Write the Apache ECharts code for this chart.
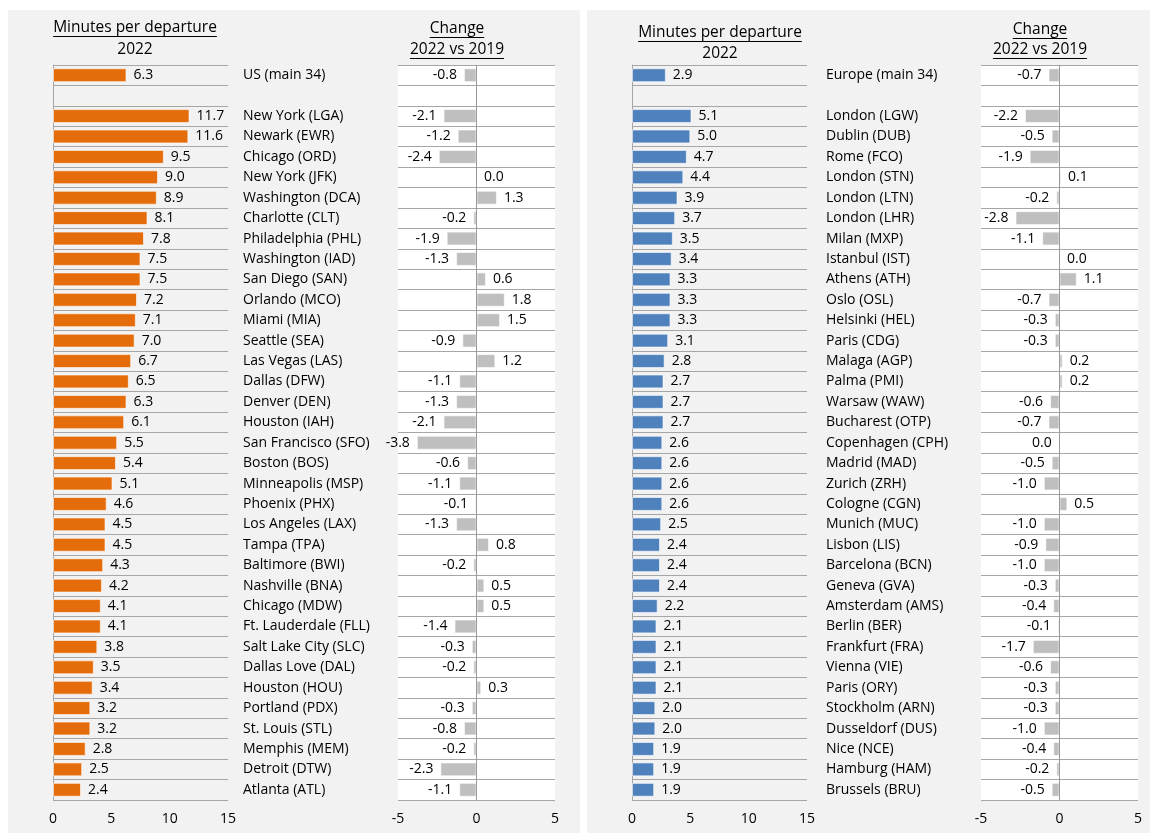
<!DOCTYPE html>
<html>
<head>
<meta charset="utf-8">
<script src="https://cdn.jsdelivr.net/npm/echarts@6/dist/echarts.min.js"></script>
<style>
  html, body { margin: 0; padding: 0; background: #fff; }
  #main { width: 1150px; height: 833px; }
</style>
</head>
<body>
<div id="main"></div>
<script>
  // US airports (first row = US average, second row blank spacer)
  var usNames = ['US (main 34)', '', 'New York (LGA)', 'Newark (EWR)', 'Chicago (ORD)', 'New York (JFK)',
    'Washington (DCA)', 'Charlotte (CLT)', 'Philadelphia (PHL)', 'Washington (IAD)', 'San Diego (SAN)',
    'Orlando (MCO)', 'Miami (MIA)', 'Seattle (SEA)', 'Las Vegas (LAS)', 'Dallas (DFW)', 'Denver (DEN)',
    'Houston (IAH)', 'San Francisco (SFO)', 'Boston (BOS)', 'Minneapolis (MSP)', 'Phoenix (PHX)',
    'Los Angeles (LAX)', 'Tampa (TPA)', 'Baltimore (BWI)', 'Nashville (BNA)', 'Chicago (MDW)',
    'Ft. Lauderdale (FLL)', 'Salt Lake City (SLC)', 'Dallas Love (DAL)', 'Houston (HOU)',
    'Portland (PDX)', 'St. Louis (STL)', 'Memphis (MEM)', 'Detroit (DTW)', 'Atlanta (ATL)'];
  var usMinutes = [6.3, null, 11.7, 11.6, 9.5, 9.0, 8.9, 8.1, 7.8, 7.5, 7.5, 7.2, 7.1, 7.0, 6.7, 6.5, 6.3,
    6.1, 5.5, 5.4, 5.1, 4.6, 4.5, 4.5, 4.3, 4.2, 4.1, 4.1, 3.8, 3.5, 3.4, 3.2, 3.2, 2.8, 2.5, 2.4];
  var usChange = [-0.8, null, -2.1, -1.2, -2.4, 0.0, 1.3, -0.2, -1.9, -1.3, 0.6, 1.8, 1.5, -0.9, 1.2, -1.1,
    -1.3, -2.1, -3.8, -0.6, -1.1, -0.1, -1.3, 0.8, -0.2, 0.5, 0.5, -1.4, -0.3, -0.2, 0.3, -0.3, -0.8,
    -0.2, -2.3, -1.1];

  // European airports
  var euNames = ['Europe (main 34)', '', 'London (LGW)', 'Dublin (DUB)', 'Rome (FCO)', 'London (STN)',
    'London (LTN)', 'London (LHR)', 'Milan (MXP)', 'Istanbul (IST)', 'Athens (ATH)', 'Oslo (OSL)',
    'Helsinki (HEL)', 'Paris (CDG)', 'Malaga (AGP)', 'Palma (PMI)', 'Warsaw (WAW)', 'Bucharest (OTP)',
    'Copenhagen (CPH)', 'Madrid (MAD)', 'Zurich (ZRH)', 'Cologne (CGN)', 'Munich (MUC)', 'Lisbon (LIS)',
    'Barcelona (BCN)', 'Geneva (GVA)', 'Amsterdam (AMS)', 'Berlin (BER)', 'Frankfurt (FRA)',
    'Vienna (VIE)', 'Paris (ORY)', 'Stockholm (ARN)', 'Dusseldorf (DUS)', 'Nice (NCE)',
    'Hamburg (HAM)', 'Brussels (BRU)'];
  var euMinutes = [2.9, null, 5.1, 5.0, 4.7, 4.4, 3.9, 3.7, 3.5, 3.4, 3.3, 3.3, 3.3, 3.1, 2.8, 2.7, 2.7,
    2.7, 2.6, 2.6, 2.6, 2.6, 2.5, 2.4, 2.4, 2.4, 2.2, 2.1, 2.1, 2.1, 2.1, 2.0, 2.0, 1.9, 1.9, 1.9];
  var euChange = [-0.7, null, -2.2, -0.5, -1.9, 0.1, -0.2, -2.8, -1.1, 0.0, 1.1, -0.7, -0.3, -0.3, 0.2,
    0.2, -0.6, -0.7, -0.04, -0.5, -1.0, 0.5, -1.0, -0.9, -1.0, -0.3, -0.4, -0.1, -1.7, -0.6, -0.3,
    -0.3, -1.0, -0.4, -0.2, -0.5];

  var minTicks = [0, 15, 5];     // min, max, interval
  var chgTicks = [-5, 5, 5];

  var FONT = 'Open Sans';
  var txt = '#000';
  var gridLine = '#a6a6a6';
  var plotTop = 65, plotH = 735;
  var fs = 14, titleFs = 15.5;

  function fmt(v) { return (Math.round(v * 10) / 10).toFixed(1); }

  function measure(s, size) {
    var c = document.createElement('canvas').getContext('2d');
    c.font = size + 'px "' + FONT + '"';
    return c.measureText(s).width;
  }

  // centred heading text, optionally underlined (excel style)
  function heading(s, cx, cy, underline) {
    var out = [{
      type: 'text', x: cx, y: cy,
      style: { text: s, fill: txt, fontSize: titleFs, fontFamily: FONT, align: 'center', verticalAlign: 'middle' }
    }];
    if (underline) {
      var w = measure(s, titleFs);
      out.push({
        type: 'line', shape: { x1: cx - w / 2, y1: cy + 8.5, x2: cx + w / 2, y2: cy + 8.5 },
        style: { stroke: txt, lineWidth: 1 }
      });
    }
    return out;
  }

  function chgData(arr) {
    return arr.map(function (v) {
      if (v === null) return '-';
      return { value: v, label: { position: v < 0 ? 'left' : 'right' } };
    });
  }

  var grids = [
    { left: 53, top: plotTop, width: 175, height: plotH },
    { left: 398, top: plotTop, width: 157, height: plotH, show: true, backgroundColor: '#fff', borderWidth: 0 },
    { left: 632, top: plotTop, width: 175, height: plotH },
    { left: 981, top: plotTop, width: 157, height: plotH, show: true, backgroundColor: '#fff', borderWidth: 0 }
  ];

  function valAxis(i, t) {
    return {
      type: 'value', gridIndex: i, min: t[0], max: t[1], interval: t[2],
      axisLine: { show: false }, axisTick: { show: false }, splitLine: { show: false },
      axisLabel: { color: txt, fontFamily: FONT, fontSize: fs, margin: 12 }
    };
  }

  function catAxis(i, names, withLabels, withLine) {
    return {
      type: 'category', gridIndex: i, data: names, inverse: true,
      axisLine: { show: withLine, onZero: false, lineStyle: { color: gridLine } },
      axisTick: { show: false },
      splitLine: { show: true, lineStyle: { color: gridLine, width: 1 } },
      axisLabel: withLabels ? {
        show: true, interval: 0, align: 'left', margin: 155,
        color: txt, fontFamily: FONT, fontSize: fs
      } : { show: false }
    };
  }

  function barSeries(i, data, color) {
    return {
      type: 'bar', xAxisIndex: i, yAxisIndex: i, barWidth: '68%',
      data: data.map(function (v) { return v === null ? '-' : v; }),
      itemStyle: { color: color, borderColor: 'rgba(255,255,255,0.6)', borderWidth: 1 },
      label: {
        show: true, position: 'right', distance: 7, color: txt, fontFamily: FONT, fontSize: fs,
        formatter: function (p) { return fmt(p.value); }
      }
    };
  }

  function chgSeries(i, data) {
    return {
      type: 'bar', xAxisIndex: i, yAxisIndex: i, barWidth: '68%',
      data: chgData(data),
      itemStyle: { color: '#bfbfbf', borderColor: 'rgba(255,255,255,0.6)', borderWidth: 1 },
      label: {
        show: true, distance: 7, color: txt, fontFamily: FONT, fontSize: fs,
        formatter: function (p) { return fmt(p.value); }
      },
      markLine: {
        silent: true, symbol: 'none', label: { show: false },
        lineStyle: { color: '#999', type: 'solid', width: 1 },
        data: [{ xAxis: 0 }]
      }
    };
  }

  var graphics = [
    { type: 'rect', z: -10, shape: { x: 8, y: 10, width: 572, height: 840 }, style: { fill: '#f2f2f2' } },
    { type: 'rect', z: -10, shape: { x: 587, y: 10, width: 570, height: 840 }, style: { fill: '#f2f2f2' } }
  ]
    .concat(heading('Minutes per departure', 135, 28, true))
    .concat(heading('2022', 135, 50, false))
    .concat(heading('Change', 457, 29, true))
    .concat(heading('2022 vs 2019', 457, 50, true))
    .concat(heading('Minutes per departure', 720, 33, true))
    .concat(heading('2022', 720, 54, false))
    .concat(heading('Change', 1040, 30, true))
    .concat(heading('2022 vs 2019', 1040, 50, true));

  var chart = echarts.init(document.getElementById('main'));
  chart.setOption({
    animation: false,
    textStyle: { fontFamily: FONT },
    graphic: graphics,
    grid: grids,
    xAxis: [valAxis(0, minTicks), valAxis(1, chgTicks), valAxis(2, minTicks), valAxis(3, chgTicks)],
    yAxis: [
      catAxis(0, usNames, false, true),
      catAxis(1, usNames, true, false),
      catAxis(2, euNames, false, true),
      catAxis(3, euNames, true, false)
    ],
    series: [
      barSeries(0, usMinutes, '#e46c0a'),
      chgSeries(1, usChange),
      barSeries(2, euMinutes, '#4f81bd'),
      chgSeries(3, euChange)
    ]
  });
</script>
</body>
</html>
